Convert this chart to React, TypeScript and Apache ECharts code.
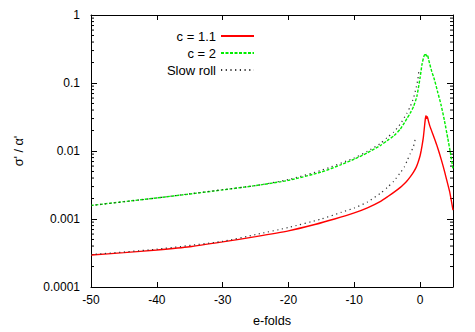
import React, { useEffect, useRef } from "react";
import * as echarts from "echarts";

const redX = [-50, -45, -40, -35, -30, -25, -20, -16, -13, -10, -8, -6, -4.9, -4, -3, -2.4, -2, -1.5, -1, -0.6, -0.3, 0, 0.15, 0.3, 0.5, 0.65, 0.8, 0.9, 1.0, 1.1, 1.25, 1.5, 2, 2.5, 3, 3.5, 4, 4.5, 5];
const redY = [0.000295, 0.00032, 0.00035, 0.00039, 0.00046, 0.00055, 0.00067, 0.00083, 0.001, 0.00123, 0.00146, 0.00182, 0.00214, 0.00246, 0.00292, 0.00331, 0.00363, 0.00417, 0.0049, 0.00575, 0.00684, 0.0085, 0.01, 0.012, 0.016, 0.022, 0.03, 0.033, 0.03, 0.032, 0.028, 0.023, 0.017, 0.0125, 0.0088, 0.006, 0.0039, 0.0025, 0.00135];

const greenX = [-50, -45, -40, -35, -30, -25, -20, -15, -12, -10, -8, -6, -5, -4, -3, -2, -1.5, -1, -0.5, 0, 0.3, 0.6, 0.8, 0.95, 1.1, 1.3, 1.7, 2.2, 2.7, 3.2, 3.7, 4.2, 4.6, 5];
const greenY = [0.00158, 0.0018, 0.00204, 0.00233, 0.00268, 0.0031, 0.0037, 0.0049, 0.0063, 0.0076, 0.0094, 0.0121, 0.0142, 0.0167, 0.021, 0.03, 0.036, 0.045, 0.063, 0.12, 0.19, 0.25, 0.27, 0.25, 0.26, 0.22, 0.156, 0.11, 0.072, 0.047, 0.028, 0.0155, 0.0095, 0.0054];

const slowUpX = [-50, -40, -30, -25, -20, -15, -10, -8, -6, -5, -4, -3, -2, -1.5, -1, -0.6, -0.35, -0.15];
const slowUpY = [0.00158, 0.00204, 0.0027, 0.0031, 0.0038, 0.0052, 0.0079, 0.0099, 0.013, 0.0158, 0.019, 0.025, 0.036, 0.045, 0.06, 0.085, 0.112, 0.16];

const slowLowX = [-50, -40, -30, -25, -20, -15, -12, -10, -8, -6, -5, -4, -3, -2.4, -2, -1.5, -1, -0.75];
const slowLowY = [0.0003, 0.00036, 0.00047, 0.00059, 0.00075, 0.001, 0.00125, 0.00145, 0.00178, 0.0024, 0.0029, 0.0036, 0.0048, 0.0058, 0.0071, 0.0091, 0.0117, 0.0147];

const seriesNames = ["c = 1.1", "c = 2", "Slow roll"];
const xTicks = [-50, -40, -30, -20, -10, 0];
const yDecades = [-4, -3, -2, -1, 0];

const zip = (xs: number[], ys: number[]) => xs.map((x, i) => [x, ys[i]]);
const FONT = "Liberation Sans, Arial, sans-serif";

export default function App() {
  const ref = useRef<HTMLDivElement>(null);
  useEffect(() => {
    if (!ref.current) return;
    const chart = echarts.init(ref.current, null, { renderer: "svg" });
    const yFmt = (v: number) => {
      const e = Math.round(Math.log10(v));
      return e >= 0 ? "1" : "0." + "0".repeat(-e - 1) + "1";
    };
    const option: any = {
      animation: false,
      backgroundColor: "#fff",
      textStyle: { fontFamily: FONT },
      grid: { left: 91, right: 22, top: 15, bottom: 40 },
      legend: {
        data: seriesNames,
        orient: "vertical",
        align: "right",
        right: 220,
        top: 29.5,
        padding: 0,
        itemWidth: 33,
        itemHeight: 14,
        itemGap: 4,
        itemStyle: { opacity: 0 },
        textStyle: { fontSize: 13, color: "#000", fontFamily: FONT },
      },
      xAxis: [
        {
          type: "value",
          min: -50,
          max: 5,
          interval: 10,
          name: "e-folds",
          nameLocation: "middle",
          nameGap: 27,
          nameTextStyle: { fontSize: 12.7, color: "#000", fontFamily: FONT },
          axisLine: { show: true, onZero: false, lineStyle: { color: "#000", width: 1 } },
          axisTick: { show: true, inside: true, length: 5, lineStyle: { color: "#000" } },
          axisLabel: {
            fontSize: 12,
            color: "#000",
            margin: 7,
            fontFamily: FONT,
            formatter: (v: number) => (xTicks.includes(v) ? String(v) : ""),
          },
          splitLine: { show: false },
        },
        {
          type: "value",
          position: "top",
          min: -50,
          max: 5,
          interval: 10,
          axisLine: { show: true, onZero: false, lineStyle: { color: "#000", width: 1 } },
          axisTick: { show: true, inside: true, length: 5, lineStyle: { color: "#000" } },
          axisLabel: { show: false },
          splitLine: { show: false },
        },
      ],
      yAxis: [
        {
          type: "log",
          logBase: 10,
          min: 0.0001,
          max: 1,
          position: "left",
          name: "σ' / α'",
          nameLocation: "middle",
          nameGap: 66,
          nameTextStyle: { fontSize: 12.7, color: "#000", fontFamily: FONT },
          axisLine: { show: true, onZero: false, lineStyle: { color: "#000", width: 1 } },
          axisTick: { show: true, inside: true, length: 6, lineStyle: { color: "#000" } },
          axisLabel: { fontSize: 12, color: "#000", margin: 11, fontFamily: FONT, formatter: yFmt },
          splitLine: { show: false },
        },
        {
          type: "log",
          logBase: 10,
          min: 0.0001,
          max: 1,
          position: "right",
          axisLine: { show: true, onZero: false, lineStyle: { color: "#000", width: 1 } },
          axisTick: { show: true, inside: true, length: 6, lineStyle: { color: "#000" } },
          axisLabel: { show: false },
          splitLine: { show: false },
        },
      ],
      series: [
        {
          name: "c = 1.1",
          type: "line",
          data: zip(redX, redY),
          symbol: "none",
          smooth: 0.15,
          lineStyle: { color: "#ff0000", width: 1.4 },
          itemStyle: { color: "#ff0000" },
          z: 3,
        },
        {
          name: "c = 2",
          type: "line",
          data: zip(greenX, greenY),
          symbol: "none",
          smooth: 0.2,
          lineStyle: { color: "#00ee00", width: 1.4, type: [3, 1.5] },
          itemStyle: { color: "#00ee00" },
          z: 3,
        },
        {
          name: "Slow roll",
          type: "line",
          data: zip(slowUpX, slowUpY),
          symbol: "none",
          smooth: 0.2,
          lineStyle: { color: "#333", width: 1.2, type: [1.2, 3.5] },
          itemStyle: { color: "#333" },
          z: 4,
        },
        {
          name: "Slow roll",
          type: "line",
          data: zip(slowLowX, slowLowY),
          symbol: "none",
          smooth: 0.2,
          lineStyle: { color: "#333", width: 1.2, type: [1.2, 3.5] },
          itemStyle: { color: "#333" },
          z: 4,
        },
      ],
    };
    chart.setOption(option);

    // minor log ticks on left and right, placed through the axis scale
    const xl = chart.convertToPixel({ xAxisIndex: 0 }, -50) as number;
    const xr = chart.convertToPixel({ xAxisIndex: 0 }, 5) as number;
    const graphics: any[] = [];
    yDecades.slice(0, -1).forEach((e) => {
      for (let k = 2; k <= 9; k++) {
        const y = chart.convertToPixel({ yAxisIndex: 0 }, k * Math.pow(10, e)) as number;
        graphics.push({
          type: "line",
          shape: { x1: xl, y1: y, x2: xl + 3, y2: y },
          style: { stroke: "#000", lineWidth: 1 },
          silent: true,
        });
        graphics.push({
          type: "line",
          shape: { x1: xr - 3, y1: y, x2: xr, y2: y },
          style: { stroke: "#000", lineWidth: 1 },
          silent: true,
        });
      }
    });
    chart.setOption({ graphic: graphics });

    return () => chart.dispose();
  }, []);
  return <div ref={ref} style={{ position: "fixed", left: 0, top: 0, width: 475, height: 332 }} />;
}
